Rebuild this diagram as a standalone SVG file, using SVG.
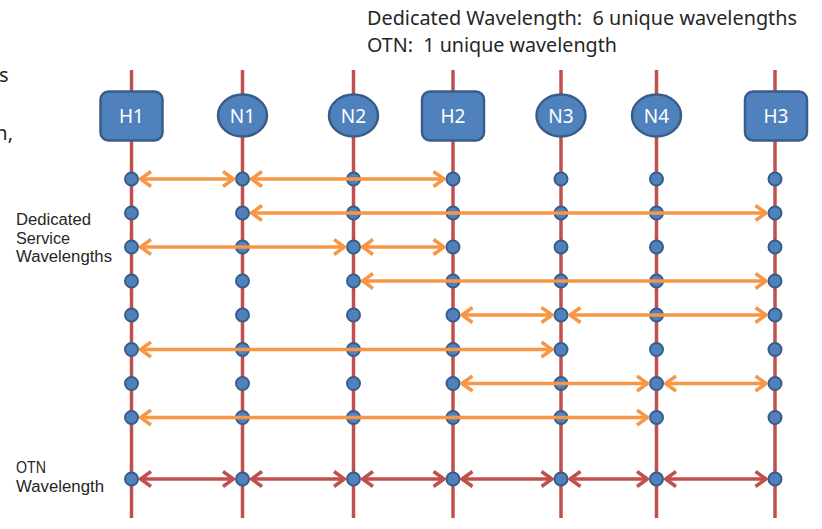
<svg xmlns="http://www.w3.org/2000/svg" width="822" height="529" viewBox="0 0 822 529">
<style>
.vl{stroke:#C0504D;stroke-width:3.5}
.box{fill:#4F81BD;stroke:#385D8A;stroke-width:2.5}
.lbl{fill:#fff;font-family:"Noto Sans","Open Sans",sans-serif;font-size:19px;text-anchor:middle}
.dot{fill:#4F81BD;stroke:#385D8A;stroke-width:2}
.txt{fill:#262626;font-family:"Noto Sans","Open Sans",sans-serif}
.sl{fill:#262626;font-family:"Liberation Sans",Arial,sans-serif;font-size:16px}
.oa{stroke:#F79646;stroke-width:3.5;fill:none;marker-start:url(#ao);marker-end:url(#ao)}
.ra{stroke:#C0504D;stroke-width:3.5;fill:none;marker-start:url(#ar);marker-end:url(#ar)}
</style>
<defs>
<marker id="ao" markerUnits="userSpaceOnUse" viewBox="0 0 14 18" refX="12" refY="9" markerWidth="14" markerHeight="18" orient="auto-start-reverse">
<path d="M1.5,1.5 L12,9 L1.5,16.5" fill="none" stroke="#F79646" stroke-width="3.5"/>
</marker>
<marker id="ar" markerUnits="userSpaceOnUse" viewBox="0 0 14 18" refX="12" refY="9" markerWidth="14" markerHeight="18" orient="auto-start-reverse">
<path d="M1.5,1.5 L12,9 L1.5,16.5" fill="none" stroke="#C0504D" stroke-width="3.5"/>
</marker>
</defs>
<rect width="822" height="529" fill="#fff"/>

<g id="header" class="txt">
<text x="367" y="25" font-size="20" textLength="430" lengthAdjust="spacingAndGlyphs">Dedicated Wavelength:&#160; 6 unique wavelengths</text>
<text x="367" y="52" font-size="20" textLength="250" lengthAdjust="spacingAndGlyphs">OTN:&#160; 1 unique wavelength</text>
<text x="-1" y="82" font-size="20">s</text>
<text x="13" y="140" font-size="20" text-anchor="end">n,</text>
</g>

<g id="labels">
<text class="sl" x="16" y="225" textLength="75" lengthAdjust="spacingAndGlyphs">Dedicated</text>
<text class="sl" x="16" y="243.5" textLength="54" lengthAdjust="spacingAndGlyphs">Service</text>
<text class="sl" x="16" y="262" textLength="96" lengthAdjust="spacingAndGlyphs">Wavelengths</text>
<text class="sl" x="16" y="473" textLength="30" lengthAdjust="spacingAndGlyphs">OTN</text>
<text class="sl" x="16" y="492" textLength="88" lengthAdjust="spacingAndGlyphs">Wavelength</text>
</g>

<g id="fibers">
<line class="vl" x1="131.5" y1="70" x2="131.5" y2="518"/>
<line class="vl" x1="242.5" y1="70" x2="242.5" y2="518"/>
<line class="vl" x1="353.5" y1="70" x2="353.5" y2="518"/>
<line class="vl" x1="453" y1="70" x2="453" y2="518"/>
<line class="vl" x1="561" y1="70" x2="561" y2="518"/>
<line class="vl" x1="656.5" y1="70" x2="656.5" y2="518"/>
<line class="vl" x1="775" y1="70" x2="775" y2="518"/>
</g>

<g id="H1"><rect class="box" x="100.5" y="91.5" width="62" height="49" rx="8"/><text class="lbl" x="131.5" y="123">H1</text></g>
<g id="N1"><ellipse class="box" cx="242.5" cy="115.5" rx="24.5" ry="21"/><text class="lbl" x="242.5" y="123">N1</text></g>
<g id="N2"><ellipse class="box" cx="353.5" cy="115.5" rx="24.5" ry="21"/><text class="lbl" x="353.5" y="123">N2</text></g>
<g id="H2"><rect class="box" x="422" y="91.5" width="62" height="49" rx="8"/><text class="lbl" x="453" y="123">H2</text></g>
<g id="N3"><ellipse class="box" cx="561" cy="115.5" rx="24.5" ry="21"/><text class="lbl" x="561" y="123">N3</text></g>
<g id="N4"><ellipse class="box" cx="656.5" cy="115.5" rx="24.5" ry="21"/><text class="lbl" x="656.5" y="123">N4</text></g>
<g id="H3"><rect class="box" x="745" y="91.5" width="62" height="49" rx="8"/><text class="lbl" x="776" y="123">H3</text></g>

<g id="dots">
<g id="d1"><circle class="dot" cx="131.5" cy="179" r="6.5"/><circle class="dot" cx="242.5" cy="179" r="6.5"/><circle class="dot" cx="353.5" cy="179" r="6.5"/><circle class="dot" cx="453" cy="179" r="6.5"/><circle class="dot" cx="561" cy="179" r="6.5"/><circle class="dot" cx="656.5" cy="179" r="6.5"/><circle class="dot" cx="775" cy="179" r="6.5"/></g>
<g id="d2"><circle class="dot" cx="131.5" cy="213" r="6.5"/><circle class="dot" cx="242.5" cy="213" r="6.5"/><circle class="dot" cx="353.5" cy="213" r="6.5"/><circle class="dot" cx="453" cy="213" r="6.5"/><circle class="dot" cx="561" cy="213" r="6.5"/><circle class="dot" cx="656.5" cy="213" r="6.5"/><circle class="dot" cx="775" cy="213" r="6.5"/></g>
<g id="d3"><circle class="dot" cx="131.5" cy="247" r="6.5"/><circle class="dot" cx="242.5" cy="247" r="6.5"/><circle class="dot" cx="353.5" cy="247" r="6.5"/><circle class="dot" cx="453" cy="247" r="6.5"/><circle class="dot" cx="561" cy="247" r="6.5"/><circle class="dot" cx="656.5" cy="247" r="6.5"/><circle class="dot" cx="775" cy="247" r="6.5"/></g>
<g id="d4"><circle class="dot" cx="131.5" cy="281" r="6.5"/><circle class="dot" cx="242.5" cy="281" r="6.5"/><circle class="dot" cx="353.5" cy="281" r="6.5"/><circle class="dot" cx="453" cy="281" r="6.5"/><circle class="dot" cx="561" cy="281" r="6.5"/><circle class="dot" cx="656.5" cy="281" r="6.5"/><circle class="dot" cx="775" cy="281" r="6.5"/></g>
<g id="d5"><circle class="dot" cx="131.5" cy="315" r="6.5"/><circle class="dot" cx="242.5" cy="315" r="6.5"/><circle class="dot" cx="353.5" cy="315" r="6.5"/><circle class="dot" cx="453" cy="315" r="6.5"/><circle class="dot" cx="561" cy="315" r="6.5"/><circle class="dot" cx="656.5" cy="315" r="6.5"/><circle class="dot" cx="775" cy="315" r="6.5"/></g>
<g id="d6"><circle class="dot" cx="131.5" cy="349.5" r="6.5"/><circle class="dot" cx="242.5" cy="349.5" r="6.5"/><circle class="dot" cx="353.5" cy="349.5" r="6.5"/><circle class="dot" cx="453" cy="349.5" r="6.5"/><circle class="dot" cx="561" cy="349.5" r="6.5"/><circle class="dot" cx="656.5" cy="349.5" r="6.5"/><circle class="dot" cx="775" cy="349.5" r="6.5"/></g>
<g id="d7"><circle class="dot" cx="131.5" cy="383.5" r="6.5"/><circle class="dot" cx="242.5" cy="383.5" r="6.5"/><circle class="dot" cx="353.5" cy="383.5" r="6.5"/><circle class="dot" cx="453" cy="383.5" r="6.5"/><circle class="dot" cx="561" cy="383.5" r="6.5"/><circle class="dot" cx="656.5" cy="383.5" r="6.5"/><circle class="dot" cx="775" cy="383.5" r="6.5"/></g>
<g id="d8"><circle class="dot" cx="131.5" cy="417.5" r="6.5"/><circle class="dot" cx="242.5" cy="417.5" r="6.5"/><circle class="dot" cx="353.5" cy="417.5" r="6.5"/><circle class="dot" cx="453" cy="417.5" r="6.5"/><circle class="dot" cx="561" cy="417.5" r="6.5"/><circle class="dot" cx="656.5" cy="417.5" r="6.5"/><circle class="dot" cx="775" cy="417.5" r="6.5"/></g>
<g id="d9"><circle class="dot" cx="131.5" cy="479" r="6.5"/><circle class="dot" cx="242.5" cy="479" r="6.5"/><circle class="dot" cx="353.5" cy="479" r="6.5"/><circle class="dot" cx="453" cy="479" r="6.5"/><circle class="dot" cx="561" cy="479" r="6.5"/><circle class="dot" cx="656.5" cy="479" r="6.5"/><circle class="dot" cx="775" cy="479" r="6.5"/></g>
</g>

<g id="connectors">
<line class="oa" x1="140.5" y1="179" x2="233.5" y2="179"/>
<line class="oa" x1="251.5" y1="179" x2="444" y2="179"/>
<line class="oa" x1="251.5" y1="213" x2="766" y2="213"/>
<line class="oa" x1="140.5" y1="247" x2="344.5" y2="247"/>
<line class="oa" x1="362.5" y1="247" x2="444" y2="247"/>
<line class="oa" x1="362.5" y1="281" x2="766" y2="281"/>
<line class="oa" x1="462" y1="315" x2="552" y2="315"/>
<line class="oa" x1="570" y1="315" x2="766" y2="315"/>
<line class="oa" x1="140.5" y1="349.5" x2="552" y2="349.5"/>
<line class="oa" x1="462" y1="383.5" x2="647.5" y2="383.5"/>
<line class="oa" x1="665.5" y1="383.5" x2="766" y2="383.5"/>
<line class="oa" x1="140.5" y1="417.5" x2="647.5" y2="417.5"/>
<line class="ra" x1="140.5" y1="479" x2="233.5" y2="479"/>
<line class="ra" x1="251.5" y1="479" x2="344.5" y2="479"/>
<line class="ra" x1="362.5" y1="479" x2="444" y2="479"/>
<line class="ra" x1="462" y1="479" x2="552" y2="479"/>
<line class="ra" x1="570" y1="479" x2="647.5" y2="479"/>
<line class="ra" x1="665.5" y1="479" x2="766" y2="479"/>
</g>
</svg>
